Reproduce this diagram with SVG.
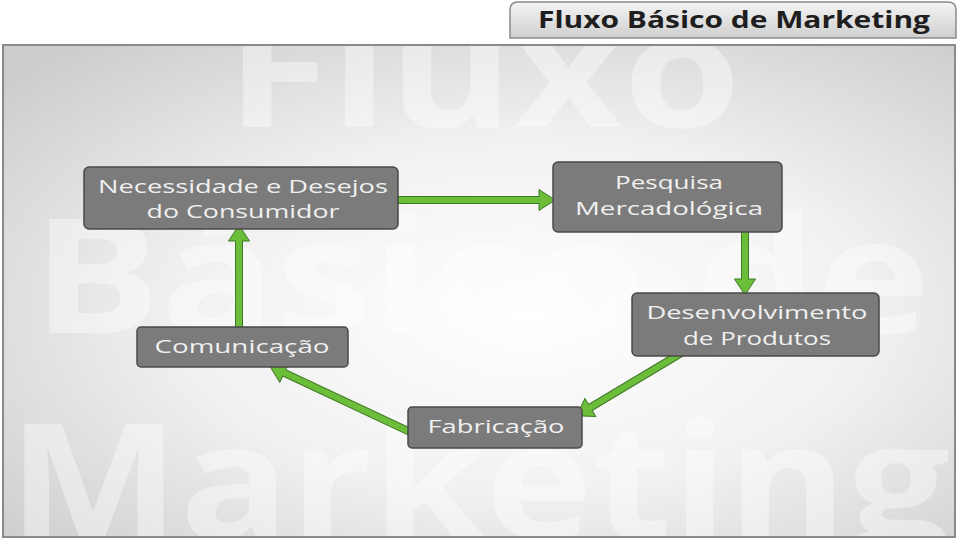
<svg xmlns="http://www.w3.org/2000/svg" width="960" height="540" viewBox="0 0 960 540">
<defs>
  <radialGradient id="bg" cx="0.55" cy="0.55" r="0.72">
    <stop offset="0" stop-color="#ffffff"/>
    <stop offset="0.5" stop-color="#f1f1f1"/>
    <stop offset="1" stop-color="#cdcdcd"/>
  </radialGradient>
  <linearGradient id="tg" x1="0" y1="0" x2="0" y2="1">
    <stop offset="0" stop-color="#f4f4f4"/>
    <stop offset="1" stop-color="#cfcfcf"/>
  </linearGradient>
  <clipPath id="pc"><rect x="4" y="46" width="950" height="490"/></clipPath>
  <style>
    .node rect { fill:#7b7b7b; stroke:#4a4a4a; stroke-width:1.5; }
    .node text { fill:#f0f0f0; font-family:"Open Sans","Lato","DejaVu Sans",sans-serif; font-size:19px; text-anchor:middle; }
    .arrow { fill:#6cbd3a; stroke:#3f7a24; stroke-width:1; stroke-linejoin:miter; }
    .wm { fill:#ffffff; fill-opacity:0.4; font-family:"Open Sans","Lato","DejaVu Sans",sans-serif; font-weight:bold; }
  </style>
</defs>
<rect width="960" height="540" fill="#ffffff"/>
<g id="title">
  <path d="M510,38 L510,10 Q510,2 518,2 L948,2 Q956,2 956,10 L956,38 Z" fill="url(#tg)" stroke="#8a8a8a" stroke-width="1.5"/>
  <text x="538" y="28" textLength="392" lengthAdjust="spacingAndGlyphs" font-family="'Open Sans','Lato','DejaVu Sans',sans-serif" font-weight="bold" font-size="24" fill="#1e1e1e">Fluxo Básico de Marketing</text>
</g>
<g id="panel">
  <rect x="3" y="45" width="952" height="492" fill="url(#bg)" stroke="#8a8a8a" stroke-width="2"/>
  <g clip-path="url(#pc)">
    <text class="wm" x="226" y="127" font-size="160" textLength="515" lengthAdjust="spacingAndGlyphs">Fluxo</text>
    <text class="wm" x="32" y="333" font-size="160" textLength="898" lengthAdjust="spacingAndGlyphs">Básico de</text>
    <text class="wm" x="8" y="538" font-size="160" textLength="942" lengthAdjust="spacingAndGlyphs">Marketing</text>
  </g>
</g>
<g id="connectors">
  <g transform="translate(398,200)"><polygon class="arrow" points="0,-3.5 141,-3.5 141,-10.5 157,0 141,10.5 141,3.5 0,3.5"/></g>
  <g transform="translate(745,231) rotate(90)"><polygon class="arrow" points="0,-3.5 48,-3.5 48,-10.5 64,0 48,10.5 48,3.5 0,3.5"/></g>
  <g transform="translate(683,352) rotate(149.1)"><polygon class="arrow" points="0,-3.5 108,-3.5 108,-10.5 124,0 108,10.5 108,3.5 0,3.5"/></g>
  <g transform="translate(410,432) rotate(205.2)"><polygon class="arrow" points="0,-3.5 139,-3.5 139,-10.5 155,0 139,10.5 139,3.5 0,3.5"/></g>
  <g transform="translate(239,331) rotate(-90)"><polygon class="arrow" points="0,-3.5 90,-3.5 90,-10.5 106,0 90,10.5 90,3.5 0,3.5"/></g>
</g>
<g id="n1" class="node">
  <rect x="84" y="167" width="314" height="62" rx="5"/>
  <text x="243" y="193" textLength="290" lengthAdjust="spacingAndGlyphs">Necessidade e Desejos</text>
  <text x="243" y="218" textLength="193" lengthAdjust="spacingAndGlyphs">do Consumidor</text>
</g>
<g id="n2" class="node">
  <rect x="553" y="162" width="229" height="70" rx="5"/>
  <text x="669" y="189" textLength="108" lengthAdjust="spacingAndGlyphs">Pesquisa</text>
  <text x="669" y="215" textLength="188" lengthAdjust="spacingAndGlyphs">Mercadológica</text>
</g>
<g id="n3" class="node">
  <rect x="632" y="293" width="247" height="63" rx="5"/>
  <text x="757" y="319" textLength="221" lengthAdjust="spacingAndGlyphs">Desenvolvimento</text>
  <text x="757" y="345" textLength="148" lengthAdjust="spacingAndGlyphs">de Produtos</text>
</g>
<g id="n4" class="node">
  <rect x="408" y="407" width="174" height="41" rx="4"/>
  <text x="496" y="433" textLength="137" lengthAdjust="spacingAndGlyphs">Fabricação</text>
</g>
<g id="n5" class="node">
  <rect x="137" y="327" width="211" height="40" rx="4"/>
  <text x="242" y="353" textLength="175" lengthAdjust="spacingAndGlyphs">Comunicação</text>
</g>
</svg>
